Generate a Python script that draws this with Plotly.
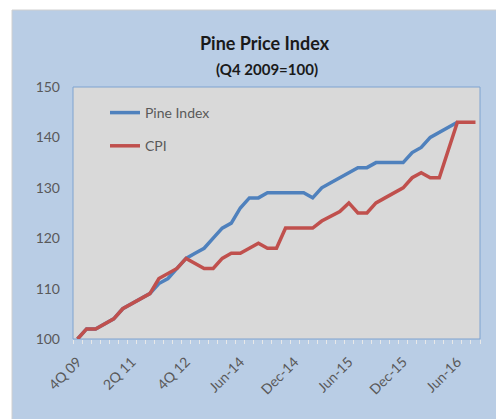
import plotly.graph_objects as go

periods = ["4Q 09", "1Q 10", "2Q 10", "3Q 10", "4Q 10", "1Q 11", "2Q 11", "3Q 11",
           "4Q 11", "1Q 12", "2Q 12", "3Q 12", "4Q 12", "1Q 13", "2Q 13", "3Q 13",
           "4Q 13", "1Q 14", "Jun-14", "Jul-14", "Aug-14", "Sep-14", "Oct-14", "Nov-14",
           "Dec-14", "Jan-15", "Feb-15", "Mar-15", "Apr-15", "May-15", "Jun-15", "Jul-15",
           "Aug-15", "Sep-15", "Oct-15", "Nov-15", "Dec-15", "Jan-16", "Feb-16", "Mar-16",
           "Apr-16", "May-16", "Jun-16", "Jul-16", "Aug-16"]

pine_index = [100, 102, 102, 103, 104, 106, 107, 108, 109, 111, 112, 114, 116,
              117, 118, 120, 122, 123, 126, 128, 128, 129, 129, 129, 129, 129,
              128, 130, 131, 132, 133, 134, 134, 135, 135, 135, 135, 137, 138,
              140, 141, 142, 143, None, None]

cpi = [100, 102, 102, 103, 104, 106, 107, 108, 109, 112, 113, 114, 116,
       115, 114, 114, 116, 117, 117, 118, 119, 118, 118, 122, 122, 122,
       122, 123.4, 124.4, 125.3, 127, 125, 125, 127, 128, 129, 130, 132, 133,
       132, 132, 137.5, 143, 143, 143]

label_every = 6
tick_text = [p if i % label_every == 0 else "" for i, p in enumerate(periods)]

FONT = "Lato"
GREY = "#595959"
BLUE_BG = "#B9CDE5"

fig = go.Figure()
fig.add_trace(go.Scatter(x=periods, y=pine_index, mode="lines", name="Pine Index",
                         line=dict(color="#4F81BD", width=3.5), legendgroup="a"))
fig.add_trace(go.Scatter(x=periods, y=cpi, mode="lines", name="CPI",
                         line=dict(color="#C0504D", width=3.5), legendgroup="b"))

OFF = 8  # page body margin
W, H = 504 - OFF, 419 - OFF
L, R, T, B = 73 - OFF, 24, 87 - OFF, 80
pw, ph = W - L - R, H - T - B

def px_x(v):
    # v in screen pixels
    return (v - OFF - L) / pw

def px_y(v):
    return (H - B - (v - OFF)) / ph

shapes = [
    dict(type="rect", xref="paper", yref="paper", x0=px_x(0), x1=px_x(12), y0=px_y(430), y1=px_y(0),
         fillcolor="white", line=dict(width=0), layer="below"),
    dict(type="rect", xref="paper", yref="paper", x0=px_x(0), x1=px_x(510), y0=px_y(10), y1=px_y(0),
         fillcolor="white", line=dict(width=0), layer="below"),
    dict(type="rect", xref="paper", yref="paper", x0=px_x(497), x1=px_x(510), y0=px_y(430), y1=px_y(0),
         fillcolor="white", line=dict(width=0), layer="below"),
    dict(type="rect", xref="paper", yref="paper", x0=px_x(12), x1=px_x(497), y0=px_y(421), y1=px_y(10),
         fillcolor="rgba(0,0,0,0)", line=dict(width=1, color="#D0D0D0")),
    dict(type="rect", xref="paper", yref="paper", x0=0, x1=1, y0=0, y1=1,
         fillcolor="rgba(0,0,0,0)", line=dict(width=1, color="#7FA3D0"), layer="below"),
]

fig.update_layout(
    width=W, height=H,
    margin=dict(l=L, r=R, t=T, b=B, pad=0),
    paper_bgcolor=BLUE_BG,
    plot_bgcolor="#D9D9D9",
    shapes=shapes,
    showlegend=True,
    legend=dict(x=px_x(105), y=px_y(97), xanchor="left", yanchor="top",
                bgcolor="rgba(0,0,0,0)", font=dict(family=FONT, size=14, color=GREY),
                tracegroupgap=12, traceorder="grouped", itemwidth=30),
    annotations=[
        dict(text="Pine Price Index", xref="paper", yref="paper", x=px_x(265), y=px_y(43),
             xanchor="center", yanchor="middle", showarrow=False,
             font=dict(family=FONT, size=18, color="#1a1a1a", weight="bold")),
        dict(text="(Q4 2009=100)", xref="paper", yref="paper", x=px_x(267), y=px_y(69),
             xanchor="center", yanchor="middle", showarrow=False,
             font=dict(family=FONT, size=15, color="#1a1a1a", weight="bold")),
    ],
    xaxis=dict(type="category", categoryorder="array", categoryarray=periods,
               tickvals=periods, ticktext=tick_text, tickangle=-45,
               tickson="boundaries", ticks="outside", ticklen=4, tickcolor="#E8E8E8",
               showgrid=False, zeroline=False, showline=False,
               tickfont=dict(family=FONT, size=14, color=GREY),
               range=[-0.5, len(periods) - 0.5], ticklabelstandoff=11),
    yaxis=dict(range=[100, 150], dtick=10, showgrid=False, zeroline=False,
               showline=False, ticks="", ticklabelstandoff=12,
               tickfont=dict(family=FONT, size=14, color=GREY)),
)

fig.write_html("out.html")
